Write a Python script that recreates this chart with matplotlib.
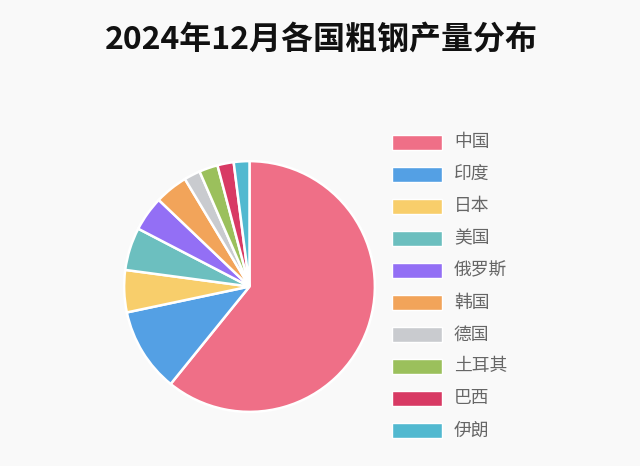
import matplotlib
matplotlib.use("Agg")
import matplotlib.pyplot as plt
from matplotlib.patches import Rectangle

plt.rcParams['font.family'] = ['Noto Sans CJK SC', 'DejaVu Sans']

countries = ["中国", "印度", "日本", "美国", "俄罗斯", "韩国", "德国", "土耳其", "巴西", "伊朗"]
output_mt = [78.4, 14.0, 7.0, 7.1, 5.8, 5.5, 2.7, 3.1, 2.7, 2.6]
colors = ["#EF6F87", "#54A0E4", "#F8CE6B", "#6CBFBF", "#936FF5",
          "#F2A45A", "#C9CBCF", "#9BC05C", "#D83A64", "#52B9D0"]
title = "2024年12月各国粗钢产量分布"

W, H = 640, 466
fig = plt.figure(figsize=(W / 100, H / 100), dpi=100)
bg = "#F9F9F9"
fig.patch.set_facecolor(bg)

cx, cy, r = 249.5, 286.5, 126
ax = fig.add_axes([(cx - r) / W, (H - cy - r) / H, 2 * r / W, 2 * r / H])
ax.set_facecolor(bg)
ax.pie(output_mt, colors=colors, startangle=90, counterclock=False, radius=1,
       wedgeprops=dict(edgecolor="white", linewidth=1.8))
ax.set_xlim(-1.005, 1.005)
ax.set_ylim(-1.005, 1.005)
ax.set_aspect("equal")
ax.axis("off")

fig.text(321 / W, 1 - 40 / H, title, ha="center", va="center",
         fontsize=23, fontweight="bold", color="#111111")

# legend
bx, bw, bh = 392, 50, 15
y0, dy = 142.5, 32
for i, (lab, col) in enumerate(zip(countries, colors)):
    yc = y0 + dy * i
    fig.patches.append(Rectangle((bx / W, 1 - (yc + bh / 2) / H), bw / W, bh / H,
                                 transform=fig.transFigure, facecolor=col,
                                 edgecolor="white", linewidth=1))
    fig.text(454 / W, 1 - yc / H, lab, ha="left", va="center",
             fontsize=12.8, color="#666666")

fig.savefig("out.png", dpi=100, facecolor=bg)
